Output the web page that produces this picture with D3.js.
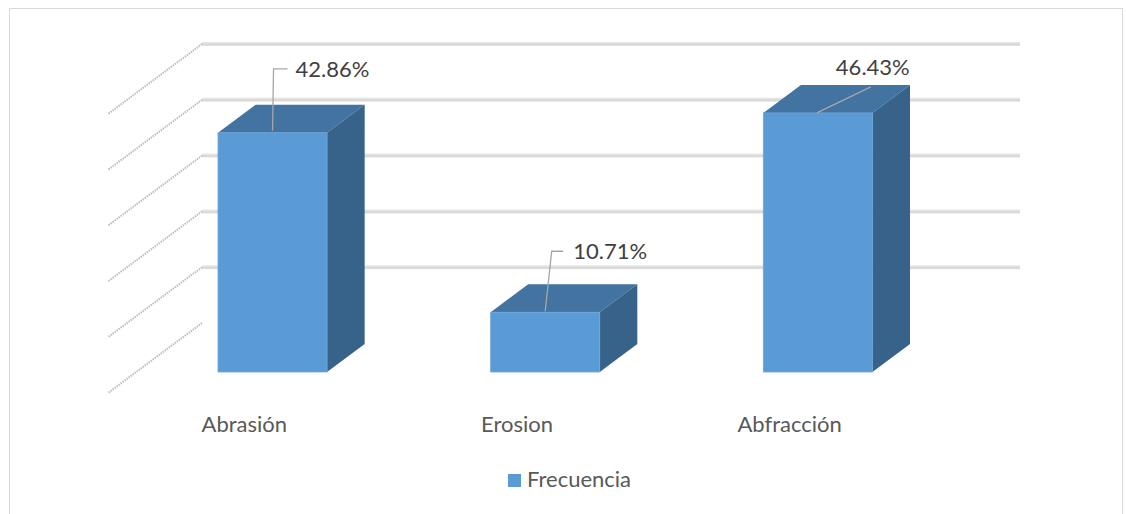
<!DOCTYPE html>
<html>
<head>
<meta charset="utf-8">
<script src="https://cdn.jsdelivr.net/npm/d3@7"></script>
<style>
  body { margin: 0; background: #fff; }
  svg { display: block; font-family: Lato, "Noto Sans", sans-serif; }
</style>
</head>
<body>
<svg id="chart" width="1126" height="514"></svg>
<script>
// chart values
const categories = ["Abrasión", "Erosion", "Abfracción"];
const values = [42.86, 10.71, 46.43];
const valueLabels = ["42.86%", "10.71%", "46.43%"];
const ticks = [0, 10, 20, 30, 40, 50];
const seriesName = "Frecuencia";

// where each data label sits relative to the top front edge of its bar
const labelLayout = [
    {tx: 23, ty: -56, leader: [[0, -2], [1, -64], [15, -64]]},
    {tx: 28, ty: -53, leader: [[0, -1], [6.5, -61], [18, -61]]},
    {tx: 18, ty: -38, leader: [[-1, 0], [53, -26]]}
];

const DX = -94, DY = 70;   // depth vector, back wall -> front edge of floor
const tBack = 0.3, tFront = 0.7;

const svg = d3.select("#chart");

// outer frame
svg.append("rect")
    .attr("x", 9.5).attr("y", 8.5)
    .attr("width", 1113).attr("height", 530)
    .attr("fill", "none")
    .attr("stroke", "#d9d9d9");

const x = d3.scaleBand()
    .domain(categories)
    .range([202, 1020])
    .paddingInner(0.6)
    .paddingOuter(0.3);

const y = d3.scaleLinear()
    .domain([0, 50])
    .range([323, 44]);

const bw = x.bandwidth();
const wallLeft = x.range()[0], wallRight = x.range()[1];

// side wall lines (left)
svg.append("g")
    .selectAll("line")
    .data(ticks)
    .enter().append("line")
    .attr("x1", wallLeft).attr("y1", d => y(d))
    .attr("x2", wallLeft + DX).attr("y2", d => y(d) + DY)
    .attr("stroke", "#bdbdbd")
    .attr("stroke-width", 2)
    .attr("stroke-dasharray", "1.5,1");

// back wall gridlines
const grid = svg.append("g");
grid.selectAll("line.o")
    .data(ticks.filter(d => d > 0))
    .enter().append("line")
    .attr("class", "o")
    .attr("x1", wallLeft).attr("x2", wallRight)
    .attr("y1", d => y(d)).attr("y2", d => y(d))
    .attr("stroke", "#e4e4e4")
    .attr("stroke-width", 4);
grid.selectAll("line.i")
    .data(ticks.filter(d => d > 0))
    .enter().append("line")
    .attr("class", "i")
    .attr("x1", wallLeft).attr("x2", wallRight)
    .attr("y1", d => y(d) + 0.5).attr("y2", d => y(d) + 0.5)
    .attr("stroke", "#d6d6d6")
    .attr("stroke-width", 1.5);

// bars
const P = (px, py, t) => [px + t * DX, py + t * DY];

const bars = svg.append("g")
    .selectAll("g")
    .data(categories.map((c, i) => ({c, v: values[i], i})))
    .enter().append("g");

bars.append("polygon")   // top
    .attr("points", d => {
        const x0 = x(d.c), x1 = x(d.c) + bw, yt = y(d.v);
        return [P(x0, yt, tFront), P(x1, yt, tFront), P(x1, yt, tBack), P(x0, yt, tBack)].join(" ");
    })
    .attr("fill", "#4373a1");

bars.append("polygon")   // right side
    .attr("points", d => {
        const x1 = x(d.c) + bw, yt = y(d.v), yb = y(0);
        return [P(x1, yt, tFront), P(x1, yt, tBack), P(x1, yb, tBack), P(x1, yb, tFront)].join(" ");
    })
    .attr("fill", "#37628a");

bars.append("rect")      // front
    .attr("x", d => x(d.c) + tFront * DX)
    .attr("y", d => y(d.v) + tFront * DY)
    .attr("width", bw)
    .attr("height", d => y(0) - y(d.v))
    .attr("fill", "#5b9bd5")
    .attr("stroke", "#6aa5da")
    .attr("stroke-width", 0.8);

// data labels with leader lines
const labels = svg.append("g");
bars.each(function(d) {
    const fx = x(d.c) + tFront * DX + bw / 2;
    const fy = y(d.v) + tFront * DY;
    const lay = labelLayout[d.i];
    labels.append("path")
        .attr("d", d3.line()(lay.leader.map(p => [fx + p[0], fy + p[1]])))
        .attr("fill", "none")
        .attr("stroke", "#a6a6a6")
        .attr("stroke-width", 1.3);
    labels.append("text")
        .attr("x", fx + lay.tx)
        .attr("y", fy + lay.ty)
        .attr("font-size", 22)
        .attr("fill", "#404040")
        .text(valueLabels[d.i]);
});

// category labels along the front floor edge
svg.append("g")
    .selectAll("text")
    .data(categories)
    .enter().append("text")
    .attr("x", d => x(d) + bw / 2 + DX)
    .attr("y", y(0) + DY + 39)
    .attr("text-anchor", "middle")
    .attr("font-size", 22)
    .attr("fill", "#595959")
    .text(d => d);

// legend
const legend = svg.append("g");
legend.append("rect")
    .attr("x", 508).attr("y", 474)
    .attr("width", 13).attr("height", 13)
    .attr("fill", "#5b9bd5");
legend.append("text")
    .attr("x", 527).attr("y", 487)
    .attr("font-size", 22)
    .attr("fill", "#595959")
    .text(seriesName);
</script>
</body>
</html>
